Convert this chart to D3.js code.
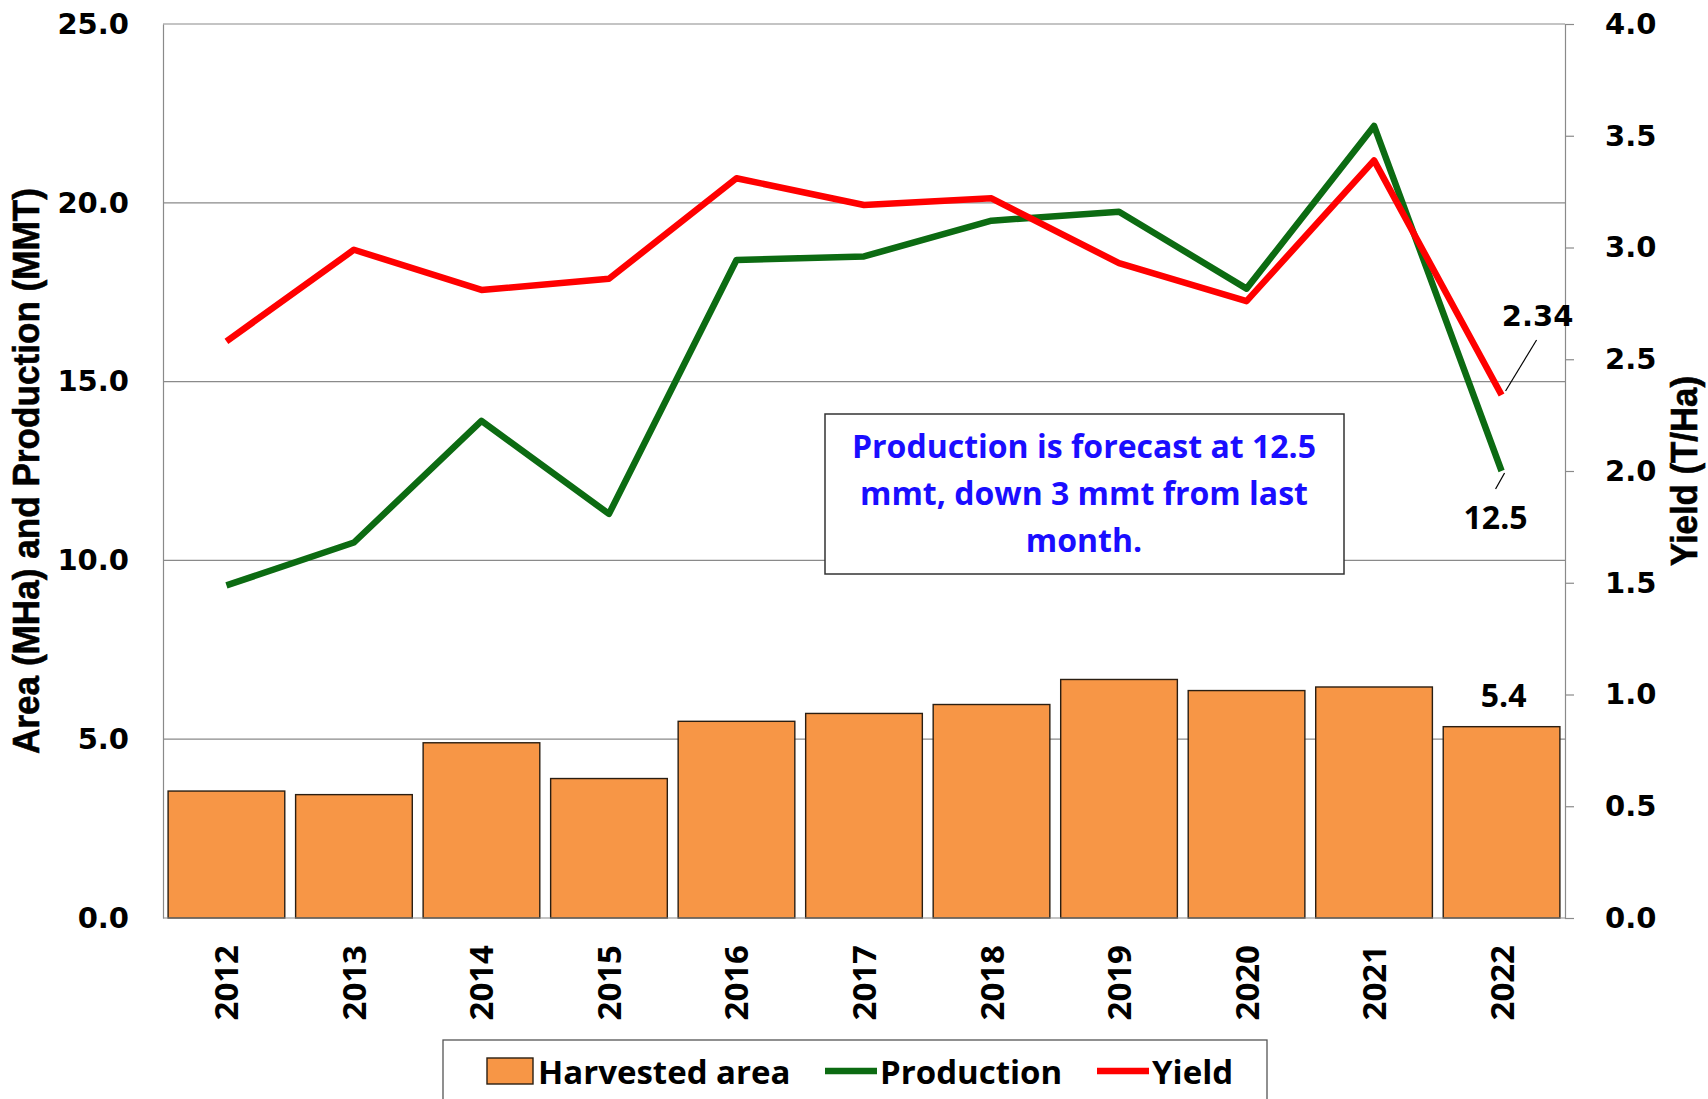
<!DOCTYPE html>
<html>
<head>
<meta charset="utf-8">
<script src="https://cdn.jsdelivr.net/npm/d3@7"></script>
<style>
  body { margin: 0; background: #fff; }
  svg { display: block; }
</style>
</head>
<body>
<svg id="chart"></svg>
<script>
const years = ["2012", "2013", "2014", "2015", "2016", "2017", "2018", "2019", "2020", "2021", "2022"];
const area = [3.55, 3.45, 4.9, 3.9, 5.5, 5.72, 5.97, 6.67, 6.36, 6.46, 5.35];
const production = [9.3, 10.5, 13.9, 11.3, 18.4, 18.5, 19.5, 19.75, 17.6, 22.15, 12.5];
const yieldVals = [2.58, 2.99, 2.81, 2.86, 3.31, 3.19, 3.22, 2.93, 2.76, 3.39, 2.34];
const leftTicks = [0, 5, 10, 15, 20, 25];
const rightTicks = [0, 0.5, 1, 1.5, 2, 2.5, 3, 3.5, 4];
const note = ["Production is forecast at 12.5", "mmt, down 3 mmt from last", "month."];

const width = 1708, height = 1099;
const marginLeft = 163, marginRight = 143, marginTop = 24, marginBottom = 181;

const svg = d3.select("#chart")
    .attr("width", width)
    .attr("height", height)
    .attr("viewBox", [0, 0, width, height]);

const x = d3.scaleBand(years, [marginLeft, width - marginRight]).paddingInner(0.085).paddingOuter(0.04);
const y = d3.scaleLinear([0, 25], [height - marginBottom, marginTop]);
const y2 = d3.scaleLinear([0, 4], [height - marginBottom, marginTop]);
const cx = d => x(d) + x.bandwidth() / 2;

const numFont = "'DejaVu Sans', Verdana, sans-serif";
const calFont = "'Open Sans', Lato, sans-serif";
const narrowFont = "'Liberation Sans', Arial, sans-serif";

// gridlines
svg.append("g")
  .selectAll("line")
  .data(leftTicks.slice(1))
  .join("line")
    .attr("x1", marginLeft).attr("x2", width - marginRight)
    .attr("y1", d => y(d)).attr("y2", d => y(d))
    .attr("stroke", "#8a8a8a").attr("stroke-width", 1.2);

// bars
svg.append("g")
  .selectAll("rect")
  .data(years)
  .join("rect")
    .attr("x", d => x(d))
    .attr("y", (d, i) => y(area[i]))
    .attr("width", x.bandwidth())
    .attr("height", (d, i) => y(0) - y(area[i]))
    .attr("fill", "#f79646")
    .attr("stroke", "#2a1e12")
    .attr("stroke-width", 1.4);

// left axis
svg.append("g")
    .attr("transform", `translate(${marginLeft},0)`)
    .call(d3.axisLeft(y).tickValues(leftTicks).tickFormat(d3.format(".1f")).tickSize(0).tickPadding(34))
    .call(g => g.select(".domain").attr("stroke", "#8a8a8a").attr("stroke-width", 1.2))
    .call(g => g.selectAll("text")
        .attr("font-family", numFont).attr("font-weight", "bold")
        .attr("font-size", 29).attr("fill", "#000"));

// right axis
svg.append("g")
    .attr("transform", `translate(${width - marginRight},0)`)
    .call(d3.axisRight(y2).tickValues(rightTicks).tickFormat(d3.format(".1f")).tickSize(9).tickPadding(31))
    .call(g => g.select(".domain").attr("stroke", "#8a8a8a").attr("stroke-width", 1.2))
    .call(g => g.selectAll(".tick line").attr("stroke", "#8a8a8a").attr("stroke-width", 1.2))
    .call(g => g.selectAll("text")
        .attr("font-family", numFont).attr("font-weight", "bold")
        .attr("font-size", 29).attr("fill", "#000"));

// bottom axis line
svg.append("line")
    .attr("x1", marginLeft).attr("x2", width - marginRight)
    .attr("y1", y(0)).attr("y2", y(0))
    .attr("stroke", "#8a8a8a").attr("stroke-width", 1.2);

// year labels
svg.append("g")
  .selectAll("text")
  .data(years)
  .join("text")
    .attr("transform", d => `translate(${cx(d) + 12},945) rotate(-90)`)
    .attr("text-anchor", "end")
    .attr("font-family", calFont).attr("font-weight", "bold")
    .attr("font-size", 33)
    .text(d => d);

// lines
const prodLine = d3.line().x(d => cx(d[0])).y(d => y(d[1]));
const yieldLine = d3.line().x(d => cx(d[0])).y(d => y2(d[1]));

svg.append("path")
    .attr("fill", "none").attr("stroke", "#0c6b12").attr("stroke-width", 6.5)
    .attr("stroke-linejoin", "round")
    .attr("d", prodLine(d3.zip(years, production)));

svg.append("path")
    .attr("fill", "none").attr("stroke", "#ff0000").attr("stroke-width", 6.5)
    .attr("stroke-linejoin", "round")
    .attr("d", yieldLine(d3.zip(years, yieldVals)));

// data labels for 2022
const last = years.length - 1;
const lx = cx(years[last]);
svg.append("text")
    .attr("x", lx + 2).attr("y", y(area[last]) - 20)
    .attr("text-anchor", "middle")
    .attr("font-family", calFont).attr("font-weight", "bold").attr("font-size", 32)
    .text("5.4");

svg.append("line")
    .attr("x1", lx + 4).attr("y1", y2(yieldVals[last]) - 4)
    .attr("x2", lx + 35).attr("y2", y2(yieldVals[last]) - 55)
    .attr("stroke", "#000").attr("stroke-width", 1.2);
svg.append("text")
    .attr("x", lx + 36).attr("y", y2(yieldVals[last]) - 69)
    .attr("text-anchor", "middle")
    .attr("font-family", numFont).attr("font-weight", "bold").attr("font-size", 29)
    .text(yieldVals[last].toFixed(2));

svg.append("line")
    .attr("x1", lx + 3).attr("y1", y(production[last]) + 2)
    .attr("x2", lx - 6).attr("y2", y(production[last]) + 18)
    .attr("stroke", "#000").attr("stroke-width", 1.2);
svg.append("text")
    .attr("x", lx - 6).attr("y", y(production[last]) + 58)
    .attr("text-anchor", "middle")
    .attr("font-family", calFont).attr("font-weight", "bold").attr("font-size", 32)
    .text(production[last].toFixed(1));

// note box
const box = svg.append("g");
box.append("rect")
    .attr("x", 825).attr("y", 414).attr("width", 519).attr("height", 160)
    .attr("fill", "#fff").attr("stroke", "#333").attr("stroke-width", 1.5);
box.selectAll("text")
  .data(note)
  .join("text")
    .attr("x", 1084).attr("y", (d, i) => 458 + i * 47)
    .attr("text-anchor", "middle")
    .attr("font-family", calFont).attr("font-weight", "bold").attr("font-size", 32)
    .attr("fill", "#1a0dff")
    .text(d => d);

// axis titles (condensed look via textLength)
svg.append("text")
    .attr("transform", "translate(39,471) rotate(-90)")
    .attr("text-anchor", "middle")
    .attr("font-family", narrowFont)
    .attr("font-weight", "bold").attr("font-size", 37)
    .attr("stroke", "#000").attr("stroke-width", 0.6)
    .attr("textLength", 566).attr("lengthAdjust", "spacingAndGlyphs")
    .text("Area (MHa) and Production (MMT)");

svg.append("text")
    .attr("transform", "translate(1697,471) rotate(-90)")
    .attr("text-anchor", "middle")
    .attr("font-family", narrowFont)
    .attr("font-weight", "bold").attr("font-size", 37)
    .attr("stroke", "#000").attr("stroke-width", 0.6)
    .attr("textLength", 190).attr("lengthAdjust", "spacingAndGlyphs")
    .text("Yield (T/Ha)");

// legend
const legend = svg.append("g");
legend.append("rect")
    .attr("x", 443).attr("y", 1040).attr("width", 824).attr("height", 80)
    .attr("fill", "#fff").attr("stroke", "#555").attr("stroke-width", 1.3);
legend.append("rect")
    .attr("x", 487).attr("y", 1058).attr("width", 46).attr("height", 26)
    .attr("fill", "#f79646").attr("stroke", "#2a1e12").attr("stroke-width", 1.4);
legend.append("line")
    .attr("x1", 825).attr("x2", 877).attr("y1", 1071).attr("y2", 1071)
    .attr("stroke", "#0c6b12").attr("stroke-width", 6.5);
legend.append("line")
    .attr("x1", 1097).attr("x2", 1149).attr("y1", 1071).attr("y2", 1071)
    .attr("stroke", "#ff0000").attr("stroke-width", 6.5);
const legendItems = [["Harvested area", 538], ["Production", 880], ["Yield", 1152]];
legend.selectAll("text.item")
  .data(legendItems)
  .join("text")
    .attr("class", "item")
    .attr("x", d => d[1]).attr("y", 1084)
    .attr("font-family", calFont).attr("font-weight", "bold").attr("font-size", 33)
    .text(d => d[0]);
</script>
</body>
</html>
